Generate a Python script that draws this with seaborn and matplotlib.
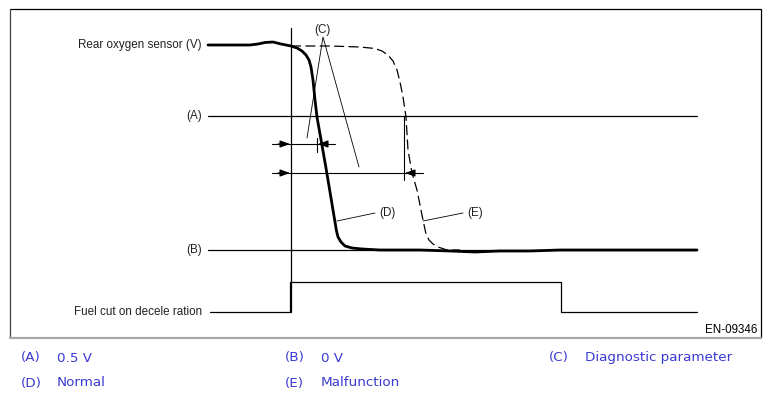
import numpy as np
import pandas as pd
import matplotlib
matplotlib.use('Agg')
import matplotlib.pyplot as plt
import seaborn as sns

normal_x = [208, 230, 250, 258, 265, 273, 281, 291, 297, 302, 306, 309, 311, 313, 315, 317,
            326, 335, 336.5, 338, 341, 345, 352, 362, 380, 420, 450, 475,
            500, 530, 560, 600, 697]
normal_y = [45, 45, 45, 44, 42.5, 42, 44, 46, 48, 51, 55, 60, 67, 80, 100, 117,
            168, 222, 231, 237, 242, 246, 248, 249, 250, 250, 251, 252,
            251, 251, 250, 250, 250]

malf_x = [291, 330, 360, 375, 382, 388, 393, 397, 400, 403, 406, 408, 412, 417, 423, 426,
          429, 433, 438, 447, 460]
malf_y = [46, 46, 47, 48.5, 51, 55, 61, 70, 82, 97, 117, 150, 173, 190, 220, 234,
          240, 244, 247, 250, 250]

fuel_x = [210, 290, 290, 561, 561, 697]
fuel_y = [312, 312, 282, 282, 312, 312]

level_a = 116
level_b = 250
level_x = [208, 697]

left_labels = ['Rear oxygen sensor (V)', '(A)', '(B)', 'Fuel cut on decele ration']
left_label_y = [45, 116, 250, 312]

legend_keys = ['(A)', '(B)', '(C)', '(D)', '(E)']
legend_text = ['0.5 V', '0 V', 'Diagnostic parameter', 'Normal', 'Malfunction']

sns.set_theme(style='white')
plt.rcParams['font.family'] = ['Liberation Sans', 'DejaVu Sans']

fig = plt.figure(figsize=(7.71, 3.99), dpi=100)
ax = fig.add_axes([0, 0, 1, 1])

# marco
ax.plot([10, 761, 761], [9, 9, 338], color='black', lw=0.9)
ax.plot([10, 10], [9, 338], color='#404040', lw=0.9)
ax.plot([10, 761], [338, 338], color='#a8a8a8', lw=1.6)

# niveles (A) y (B), eje de tiempo
ax.plot(level_x, [level_a, level_a], color='black', lw=0.9)
ax.plot(level_x, [level_b, level_b], color='black', lw=0.9)
ax.plot([291, 291], [28, 312], color='black', lw=0.9)
ax.plot(fuel_x, fuel_y, color='black', lw=0.9)

# curvas del sensor
df_n = pd.DataFrame({'x': normal_x, 'y': normal_y})
df_m = pd.DataFrame({'x': malf_x, 'y': malf_y})
sns.lineplot(data=df_m, x='x', y='y', sort=False, estimator=None, ax=ax,
             color='black', lw=0.9, linestyle=(0, (8, 3.5)))
sns.lineplot(data=df_n, x='x', y='y', sort=False, estimator=None, ax=ax,
             color='black', lw=2.0)
ax.set_xlim(0, 771)
ax.set_ylim(399, 0)
ax.axis('off')

# cotas (C)
arrow = dict(arrowstyle='-|>,head_length=0.5,head_width=0.18', color='black', lw=0.8,
             shrinkA=0, shrinkB=0)
for y, x_end, x_tip in [(144, 335, 318), (173, 423, 405)]:
    ax.plot([272, x_end], [y, y], color='black', lw=0.8)
    ax.annotate('', xy=(290, y), xytext=(278, y), arrowprops=arrow)
    ax.annotate('', xy=(x_tip, y), xytext=(x_tip + 10, y), arrowprops=arrow)
ax.plot([404, 404], [116, 180], color='black', lw=0.8)
ax.plot([317, 317], [138, 152], color='black', lw=0.8)

# lineas guia de etiquetas
ax.plot([307, 323, 359], [138, 37, 167], color='black', lw=0.6)
ax.plot([337, 375], [221, 213], color='black', lw=0.6)
ax.plot([423, 463], [221, 213], color='black', lw=0.6)

ax.text(322, 30, '(C)', fontsize=8.4, ha='center', va='center', color='#222222')
ax.text(387, 213, '(D)', fontsize=8.4, ha='center', va='center', color='#222222')
ax.text(475, 213, '(E)', fontsize=8.4, ha='center', va='center', color='#222222')

for lbl, y in zip(left_labels, left_label_y):
    ax.text(202, y, lbl, fontsize=8.4, ha='right', va='center', color='#222222')

ax.text(757, 330, 'EN-09346', fontsize=8.4, ha='right', va='center', color='black')

# leyenda inferior
legend_pos = [(21, 358), (285, 358), (549, 358), (21, 383), (285, 383)]
for key, txt, (x, y) in zip(legend_keys, legend_text, legend_pos):
    ax.text(x, y, key, fontsize=9.7, ha='left', va='center', color='#3a3ad4', family='DejaVu Sans')
    ax.text(x + 36, y, txt, fontsize=9.7, ha='left', va='center', color='#3a3ad4', family='DejaVu Sans')

fig.savefig('out.png', dpi=100)
